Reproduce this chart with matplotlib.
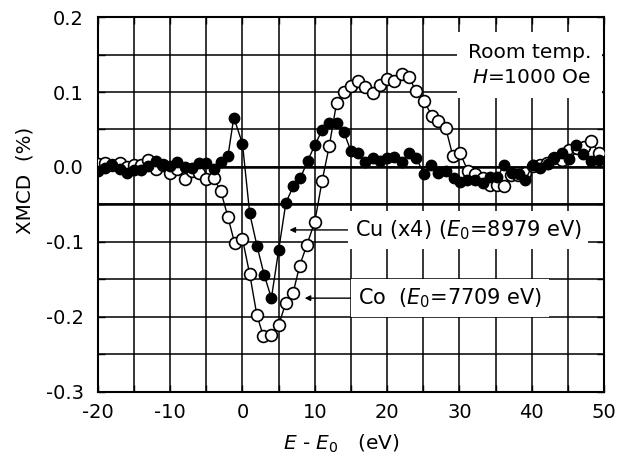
import matplotlib
matplotlib.use("Agg")
import matplotlib.pyplot as plt
from matplotlib.ticker import MultipleLocator, FormatStrFormatter

plt.rcParams['font.family'] = ['DejaVu Sans']
plt.rcParams['mathtext.fontset'] = 'dejavusans'
plt.rcParams['axes.unicode_minus'] = False

# Cu K-edge XMCD (scaled x4), filled symbols
e_cu = [-20, -19, -18, -17, -16, -15, -14, -13, -12, -11, -10, -9, -8, -7, -6,
        -5, -4, -3, -2, -1.2, 0, 1, 2, 3, 4, 5, 6, 7, 8, 9, 10, 11, 12, 13, 14,
        15, 16, 17, 18, 19, 20, 21, 22, 23, 24, 25.1, 26.1, 27.1, 28.2, 29.2,
        30.1, 31.1, 32.1, 33.2, 34.2, 35.2, 36.2, 37.2, 38.2, 39.1, 40.1, 41.2,
        42.2, 43.1, 44.2, 45.2, 46.1, 47.1, 48.2, 49.3]
xmcd_cu = [-0.005, -0.002, 0.002, -0.003, -0.008, -0.004, -0.004, 0.001, 0.008,
           0.003, 0.001, 0.006, 0.0, -0.001, 0.005, 0.005, -0.003, 0.006, 0.015,
           0.066, 0.031, -0.062, -0.105, -0.144, -0.175, -0.111, -0.048, -0.026,
           -0.015, 0.008, 0.029, 0.049, 0.059, 0.059, 0.047, 0.021, 0.018, 0.006,
           0.012, 0.008, 0.012, 0.013, 0.006, 0.018, 0.012, -0.009, 0.002, -0.008,
           -0.006, -0.015, -0.020, -0.017, -0.017, -0.021, -0.014, -0.014, 0.003,
           -0.008, -0.009, -0.018, 0.003, -0.001, 0.004, 0.012, 0.019, 0.011,
           0.029, 0.017, 0.008, 0.009]

# Co K-edge XMCD, open symbols
e_co = [-20, -19, -18, -17, -16, -15, -14, -13, -12, -11, -10, -9, -8, -7, -6,
        -5, -4, -3, -2, -1.1, 0, 1, 2, 2.9, 3.9, 5, 6, 7, 7.9, 8.9, 10, 11, 12,
        13, 14, 15, 16, 17, 18, 19, 20, 21, 22, 23, 24, 25.1, 26.2, 27.1, 28.1,
        29.1, 30.1, 31.2, 32.2, 33.2, 34.2, 35.2, 36.2, 37.1, 38.1, 39.1, 40.1,
        41.1, 42.1, 43.1, 44.2, 45.2, 46.3, 47.2, 48.2, 49.3]
xmcd_co = [0.004, 0.005, 0.002, 0.005, 0.0, 0.003, 0.002, 0.009, -0.003, 0.002,
           -0.008, -0.003, -0.016, -0.006, -0.008, -0.016, -0.015, -0.032, -0.067,
           -0.101, -0.096, -0.143, -0.198, -0.226, -0.224, -0.211, -0.181, -0.168,
           -0.132, -0.104, -0.073, -0.019, 0.028, 0.085, 0.100, 0.108, 0.115,
           0.107, 0.099, 0.109, 0.118, 0.115, 0.124, 0.120, 0.101, 0.088, 0.068,
           0.061, 0.052, 0.014, 0.018, -0.006, -0.009, -0.015, -0.024, -0.024,
           -0.026, -0.011, -0.011, -0.008, 0.001, 0.003, 0.005, 0.012, 0.009,
           0.023, 0.025, 0.027, 0.034, 0.019]

fig = plt.figure(figsize=(6.19, 4.61), dpi=100)
ax = fig.add_axes([0.158, 0.150, 0.818, 0.813])

ax.plot(e_co, xmcd_co, '-o', color='black', lw=1.0, ms=8.5,
        mfc='white', mec='black', mew=1.2, zorder=4)
ax.plot(e_cu, xmcd_cu, '-o', color='black', lw=1.0, ms=7.5,
        mfc='black', mec='black', zorder=5)

ax.set_xlim(-20, 50)
ax.set_ylim(-0.3, 0.2)
ax.xaxis.set_major_locator(MultipleLocator(10))
ax.xaxis.set_minor_locator(MultipleLocator(5))
ax.yaxis.set_major_locator(MultipleLocator(0.1))
ax.yaxis.set_minor_locator(MultipleLocator(0.05))
ax.yaxis.set_major_formatter(FormatStrFormatter('%.1f'))
ax.grid(True, which='major', color='black', lw=1.1)
ax.grid(True, which='minor', color='black', lw=1.1)
ax.axhline(0.0, color='black', lw=1.8, zorder=1.6)
ax.axhline(-0.05, color='black', lw=1.8, zorder=1.6)
ax.tick_params(which='both', direction='in', top=True, right=True,
               length=5, width=1.0, labelsize=14)
ax.tick_params(axis='x', which='major', pad=8)
ax.tick_params(axis='y', which='major', pad=10)
for s in ax.spines.values():
    s.set_linewidth(1.5)

ax.set_ylabel('XMCD  (%)', fontsize=14.3)
ax.yaxis.set_label_coords(-0.126, 0.565)
ax.set_xlabel(r'$E$ - $E_\mathregular{0}$   (eV)', fontsize=14.5)
ax.xaxis.set_label_coords(0.48, -0.108)

box = dict(facecolor='white', edgecolor='none', pad=5)
ax.text(48.2, 0.136, 'Room temp.\n$H$=1000 Oe', ha='right', va='center',
        fontsize=14.5, linespacing=1.35, zorder=3,
        bbox=dict(facecolor='white', edgecolor='none', pad=8))
ax.annotate(r'Cu (x4) ($E_\mathregular{0}$=8979 eV)', xy=(6.5, -0.084),
            xytext=(15.5, -0.084), ha='left', va='center', fontsize=15,
            bbox=box, zorder=3,
            arrowprops=dict(arrowstyle='-|>', color='black', lw=1.0,
                            mutation_scale=8, shrinkA=0, shrinkB=0))
ax.annotate(r'Co  ($E_\mathregular{0}$=7709 eV)', xy=(8.6, -0.175),
            xytext=(16.0, -0.175), ha='left', va='center', fontsize=15,
            bbox=box, zorder=3,
            arrowprops=dict(arrowstyle='-|>', color='black', lw=1.0,
                            mutation_scale=8, shrinkA=0, shrinkB=0))

fig.savefig('out.png', dpi=100)
